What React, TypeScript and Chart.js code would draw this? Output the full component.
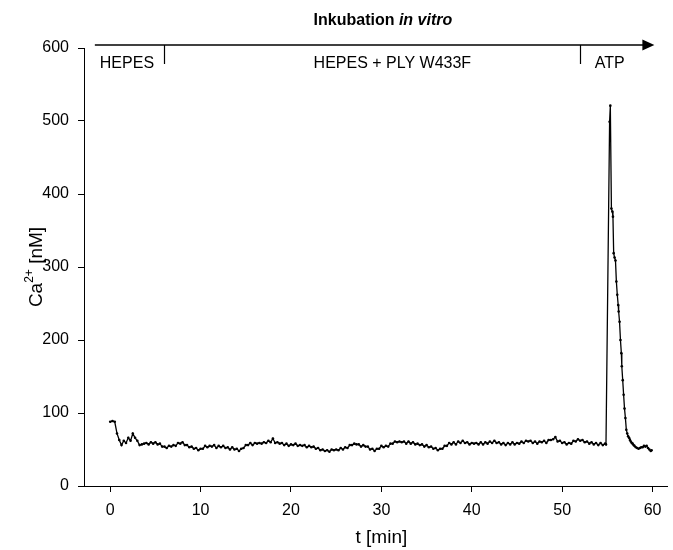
import React, { useEffect, useRef } from 'react';
import { Chart, registerables } from 'chart.js';

Chart.register(...registerables);

// Cytosolic Ca2+ trace, [time in min, Ca2+ in nM]
const hepesTrace: [number, number][] = [
  [0, 88], [0.25, 89], [0.5, 88], [0.75, 72], [1, 63], [1.25, 56], [1.5, 62], [1.75, 59],
  [2, 66], [2.25, 62], [2.5, 72], [2.75, 66], [3, 62], [3.25, 56], [3.5, 57], [3.75, 58],
  [4, 59], [4.25, 57], [4.5, 60], [4.75, 58], [5, 60], [5.25, 57], [5.5, 58], [5.75, 54],
];

const plyTrace: [number, number][] = [
  [6, 54], [6.25, 52], [6.5, 55], [6.75, 54], [7, 56], [7.25, 55], [7.5, 59], [7.75, 58],
  [8, 60], [8.25, 56], [8.5, 56], [8.75, 53], [9, 54], [9.25, 51], [9.5, 52], [9.75, 49],
  [10, 51], [10.25, 51], [10.5, 55], [10.75, 53], [11, 55], [11.25, 54], [11.5, 56], [11.75, 52],
  [12, 55], [12.25, 53], [12.5, 55], [12.75, 52], [13, 53], [13.25, 50], [13.5, 53], [13.75, 50],
  [14, 51], [14.25, 48], [14.5, 51], [14.75, 52], [15, 56], [15.25, 56], [15.5, 59], [15.75, 56],
  [16, 59], [16.25, 58], [16.5, 59], [16.75, 58], [17, 60], [17.25, 59], [17.5, 62], [17.75, 60],
  [18, 65], [18.25, 59], [18.5, 60], [18.75, 58], [19, 59], [19.25, 56], [19.5, 58], [19.75, 55],
  [20, 57], [20.25, 56], [20.5, 58], [20.75, 55], [21, 56], [21.25, 55], [21.5, 56], [21.75, 53],
  [22, 55], [22.25, 53], [22.5, 54], [22.75, 51], [23, 52], [23.25, 49], [23.5, 50], [23.75, 48],
  [24, 49], [24.25, 47], [24.5, 50], [24.75, 49], [25, 50], [25.25, 49], [25.5, 52], [25.75, 50],
  [26, 53], [26.25, 52], [26.5, 56], [26.75, 56], [27, 58], [27.25, 57], [27.5, 57], [27.75, 54],
  [28, 56], [28.25, 54], [28.5, 54], [28.75, 50], [29, 51], [29.25, 48], [29.5, 51], [29.75, 51],
  [30, 55], [30.25, 53], [30.5, 55], [30.75, 54], [31, 58], [31.25, 58], [31.5, 61], [31.75, 60],
  [32, 61], [32.25, 60], [32.5, 61], [32.75, 58], [33, 61], [33.25, 58], [33.5, 60], [33.75, 57],
  [34, 58], [34.25, 56], [34.5, 57], [34.75, 54], [35, 56], [35.25, 53], [35.5, 54], [35.75, 51],
  [36, 52], [36.25, 49], [36.5, 51], [36.75, 51], [37, 55], [37.25, 55], [37.5, 59], [37.75, 57],
  [38, 60], [38.25, 57], [38.5, 61], [38.75, 59], [39, 62], [39.25, 59], [39.5, 60], [39.75, 57],
  [40, 59], [40.25, 58], [40.5, 59], [40.75, 57], [41, 60], [41.25, 57], [41.5, 60], [41.75, 58],
  [42, 61], [42.25, 59], [42.5, 62], [42.75, 59], [43, 60], [43.25, 57], [43.5, 59], [43.75, 56],
  [44, 59], [44.25, 57], [44.5, 60], [44.75, 57], [45, 59], [45.25, 58], [45.5, 61], [45.75, 59],
  [46, 62], [46.25, 61], [46.5, 62], [46.75, 59], [47, 61], [47.25, 58], [47.5, 61], [47.75, 60],
  [48, 62], [48.25, 59], [48.5, 63], [48.75, 63], [49, 64], [49.25, 67], [49.5, 61], [49.75, 62],
  [50, 59], [50.25, 60], [50.5, 57], [50.75, 59], [51, 58], [51.25, 62], [51.5, 61], [51.75, 64],
  [52, 62], [52.25, 63], [52.5, 60], [52.75, 61], [53, 58], [53.25, 60], [53.5, 57], [53.75, 59],
  [54, 56], [54.25, 59], [54.5, 56], [54.75, 58],
];

const atpTrace: [number, number][] = [
  [54.85, 57], [55.25, 499], [55.33, 521], [55.45, 380], [55.55, 376], [55.62, 369],
  [55.7, 319], [55.8, 313], [55.9, 309], [56, 280], [56.1, 262], [56.2, 248], [56.25, 239],
  [56.35, 225], [56.45, 200], [56.55, 182], [56.6, 164], [56.7, 145], [56.8, 125], [56.9, 106],
  [57, 93], [57.1, 77], [57.2, 72], [57.3, 68], [57.4, 66], [57.5, 63], [57.6, 61], [57.7, 59],
  [57.8, 58], [57.9, 56], [58, 55], [58.15, 53], [58.3, 52], [58.45, 51], [58.6, 52], [58.75, 53],
  [58.9, 53], [59.05, 55], [59.2, 54], [59.35, 55], [59.5, 52], [59.65, 50], [59.8, 48], [59.9, 49],
];

const xTickValues = [0, 10, 20, 30, 40, 50, 60];
const yTickValues = [0, 100, 200, 300, 400, 500, 600];

// incubation timeline: phase switches (min) and phase labels
const phaseBoundaries = [6, 52];
const phaseLabels = ['HEPES', 'HEPES + PLY W433F', 'ATP'];
const phaseLabelStarts = [-1.15, 22.5, 53.6];
const timelineStart = -1.7;
const timelineEnd = 60.2;

const FONT = '"Liberation Sans", Arial, Helvetica, sans-serif';

const timelinePlugin = {
  id: 'timeline',
  afterDraw(chart: any) {
    const { ctx, chartArea, scales } = chart;
    const x = scales.x;
    const yLine = chartArea.top - 3;
    const x0 = x.getPixelForValue(timelineStart);
    const x1 = x.getPixelForValue(timelineEnd);

    ctx.save();
    ctx.strokeStyle = '#000';
    ctx.fillStyle = '#000';

    // main arrow
    ctx.lineWidth = 1.6;
    ctx.beginPath();
    ctx.moveTo(x0, yLine);
    ctx.lineTo(x1 - 10, yLine);
    ctx.stroke();
    ctx.beginPath();
    ctx.moveTo(x1, yLine);
    ctx.lineTo(x1 - 12, yLine - 5.5);
    ctx.lineTo(x1 - 12, yLine + 5.5);
    ctx.closePath();
    ctx.fill();

    // phase separators
    ctx.lineWidth = 1.2;
    phaseBoundaries.forEach((t) => {
      const px = Math.round(x.getPixelForValue(t)) + 0.5;
      ctx.beginPath();
      ctx.moveTo(px, yLine);
      ctx.lineTo(px, yLine + 19);
      ctx.stroke();
    });

    // phase labels
    ctx.font = `16px ${FONT}`;
    ctx.textBaseline = 'middle';
    ctx.textAlign = 'left';
    phaseLabels.forEach((label, i) => {
      ctx.fillText(label, x.getPixelForValue(phaseLabelStarts[i]), yLine + 19);
    });

    // headline
    const hx = x.getPixelForValue(22.5);
    const hy = yLine - 24;
    ctx.font = `bold 16px ${FONT}`;
    const first = 'Inkubation ';
    ctx.fillText(first, hx, hy);
    const w = ctx.measureText(first).width;
    ctx.font = `italic bold 16px ${FONT}`;
    ctx.fillText('in vitro', hx + w, hy);

    // x-axis title
    ctx.font = `19px ${FONT}`;
    ctx.textAlign = 'center';
    ctx.fillText('t [min]', (x.getPixelForValue(0) + x.getPixelForValue(60)) / 2, chartArea.bottom + 52);

    // y-axis title with superscript
    const cy = (chartArea.top + chartArea.bottom) / 2;
    ctx.translate(37, cy);
    ctx.rotate(-Math.PI / 2);
    ctx.textAlign = 'left';
    ctx.font = `19px ${FONT}`;
    const wCa = ctx.measureText('Ca').width;
    const wRest = ctx.measureText(' [nM]').width;
    ctx.font = `12px ${FONT}`;
    const wSup = ctx.measureText('2+').width;
    let sx = -(wCa + wSup + wRest) / 2;
    ctx.font = `19px ${FONT}`;
    ctx.fillText('Ca', sx, 0);
    sx += wCa;
    ctx.font = `12px ${FONT}`;
    ctx.fillText('2+', sx, -7);
    sx += wSup;
    ctx.font = `19px ${FONT}`;
    ctx.fillText(' [nM]', sx, 0);
    ctx.restore();
  },
};

export default function App() {
  const canvasRef = useRef<HTMLCanvasElement | null>(null);

  useEffect(() => {
    const canvas = canvasRef.current;
    if (!canvas) return;
    const data = [...hepesTrace, ...plyTrace, ...atpTrace].map(([t, v]) => ({ x: t, y: v }));

    const chart = new Chart(canvas, {
      type: 'line',
      data: {
        datasets: [
          {
            data,
            borderColor: '#000',
            borderWidth: 1.3,
            pointRadius: 1.3,
            pointBackgroundColor: '#000',
            pointBorderWidth: 0,
            pointHoverRadius: 0,
            tension: 0,
            fill: false,
          },
        ],
      },
      options: {
        responsive: false,
        animation: false,
        events: [],
        layout: { padding: { top: 48, right: 6, left: 0, bottom: 0 } },
        plugins: {
          legend: { display: false },
          tooltip: { enabled: false },
          title: { display: false },
        },
        scales: {
          x: {
            type: 'linear',
            min: -2.9,
            max: 61.6,
            afterBuildTicks: (scale: any) => {
              scale.ticks = xTickValues.map((v) => ({ value: v }));
            },
            afterFit: (scale: any) => {
              scale.height = 64;
            },
            grid: { drawOnChartArea: false, drawTicks: true, tickLength: 6, color: '#000' },
            border: { display: true, color: '#000', width: 1 },
            ticks: {
              color: '#000',
              font: { family: FONT, size: 16 },
              padding: 9,
              maxRotation: 0,
              autoSkip: false,
            },
          },
          y: {
            type: 'linear',
            min: 0,
            max: 600,
            afterBuildTicks: (scale: any) => {
              scale.ticks = yTickValues.map((v) => ({ value: v }));
            },
            afterFit: (scale: any) => {
              scale.width = 84;
            },
            grid: { drawOnChartArea: false, drawTicks: true, tickLength: 6, color: '#000' },
            border: { display: true, color: '#000', width: 1 },
            ticks: {
              color: '#000',
              font: { family: FONT, size: 16 },
              padding: 9,
              autoSkip: false,
            },
          },
        },
      },
      plugins: [timelinePlugin],
    });

    return () => chart.destroy();
  }, []);

  return (
    <div style={{ position: 'absolute', left: 0, top: 0, width: 673, height: 550, background: '#fff' }}>
      <canvas ref={canvasRef} width={673} height={550} style={{ display: 'block' }} />
    </div>
  );
}
